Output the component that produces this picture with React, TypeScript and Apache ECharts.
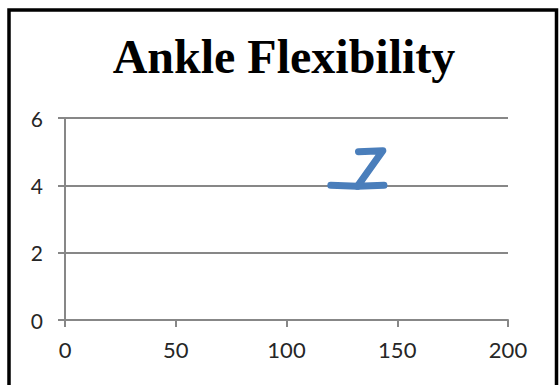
import React, { useEffect, useRef } from "react";
import * as echarts from "echarts";

// Axis ranges and tick labels
const xTicks = [0, 50, 100, 150, 200];
const yTicks = [0, 2, 4, 6];

// The hand-drawn "Z" stroke, as (x, y) points
const zUpperStroke: [number, number][] = [
  [132.5, 5.0],
  [143.5, 5.03],
  [132.0, 3.97],
  [144.0, 4.0],
];
const zLeftStroke: [number, number][] = [
  [120.0, 4.0],
  [132.0, 3.97],
];

const TITLE = "Ankle Flexibility";
const GRAY = "#878787";
const BLUE = "#4a7ebb";
const LABEL_FONT = "Lato, 'Open Sans', sans-serif";

export default function App() {
  const ref = useRef<HTMLDivElement>(null);

  useEffect(() => {
    if (!ref.current) return;
    const chart = echarts.init(ref.current, null, { renderer: "svg" });
    const strokeStyle = {
      color: BLUE,
      width: 7,
      cap: "round" as const,
      join: "round" as const,
    };
    chart.setOption({
      animation: false,
      backgroundColor: "#ffffff",
      grid: { left: 65, right: 51, top: 118, bottom: 65, containLabel: false },
      xAxis: {
        type: "value",
        min: xTicks[0],
        max: xTicks[xTicks.length - 1],
        interval: 50,
        axisLine: { show: true, onZero: false, lineStyle: { color: GRAY, width: 2 } },
        axisTick: { show: true, length: 7, lineStyle: { color: GRAY, width: 2 } },
        splitLine: { show: false },
        axisLabel: { color: "#262626", fontSize: 22, fontFamily: LABEL_FONT, margin: 18 },
      },
      yAxis: {
        type: "value",
        min: yTicks[0],
        max: yTicks[yTicks.length - 1],
        interval: 2,
        axisLine: { show: true, onZero: false, lineStyle: { color: GRAY, width: 2 } },
        axisTick: { show: true, length: 7, lineStyle: { color: GRAY, width: 2 } },
        splitLine: { show: true, lineStyle: { color: GRAY, width: 2 } },
        axisLabel: { color: "#262626", fontSize: 21, fontFamily: LABEL_FONT, margin: 22 },
      },
      series: [
        {
          type: "line",
          data: zUpperStroke,
          showSymbol: false,
          symbol: "none",
          lineStyle: strokeStyle,
          z: 5,
        },
        {
          type: "line",
          data: zLeftStroke,
          showSymbol: false,
          symbol: "none",
          lineStyle: strokeStyle,
          z: 5,
        },
      ],
      graphic: [
        {
          type: "rect",
          shape: { x: 9, y: 10, width: 547.5, height: 400 },
          style: { fill: "none", stroke: "#000", lineWidth: 3.5 },
          z: 10,
        },
        {
          type: "text",
          x: 284,
          y: 56,
          style: {
            text: TITLE,
            fill: "#000",
            font: "bold 48px 'Liberation Serif', 'Times New Roman', serif",
            align: "center",
            verticalAlign: "middle",
          },
          z: 10,
        },
      ],
    });
    return () => chart.dispose();
  }, []);

  return (
    <div
      ref={ref}
      style={{ position: "fixed", left: 0, top: 0, width: 559, height: 385 }}
    />
  );
}
